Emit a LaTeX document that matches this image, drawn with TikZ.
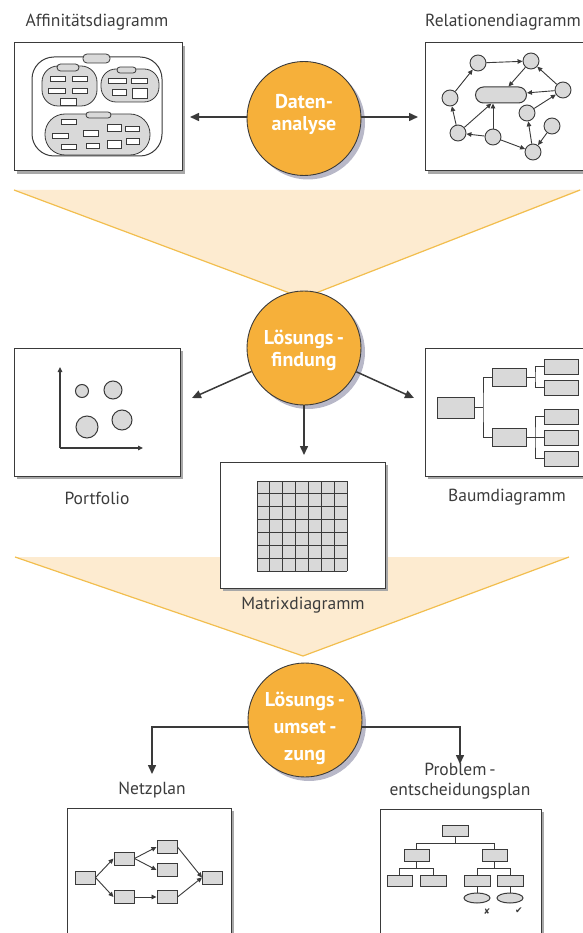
\documentclass[tikz,border=0pt]{standalone}
\usepackage{fontspec}
\setmainfont{PT Sans}
\newfontfamily\symfont{DejaVu Sans}
\usetikzlibrary{arrows.meta,shadows,shapes.geometric,calc}
\definecolor{orC}{HTML}{F6B03A}
\definecolor{funFill}{HTML}{FDEBD0}
\definecolor{funLine}{HTML}{F2BE4E}
\definecolor{lineC}{HTML}{3A3A3A}
\definecolor{txtC}{HTML}{3C3C3C}
\definecolor{grayC}{HTML}{D9D9D9}
\definecolor{shadC}{HTML}{A8A8A8}
\definecolor{cshadC}{HTML}{B8B8C8}
\begin{document}
\begin{tikzpicture}[x=1pt,y=-1pt,
  box/.style={draw=lineC, line width=1pt, fill=white,
    drop shadow={shadow xshift=3pt, shadow yshift=-3pt, fill=shadC, opacity=1}},
  lbl/.style={text=txtC, inner sep=0pt, font=\fontsize{17.5}{20}\selectfont},
  bigc/.style={circle, draw=lineC, line width=0.9pt, fill=orC, minimum size=114pt,
    drop shadow={shadow xshift=4pt, shadow yshift=-4pt, fill=cshadC, opacity=1}},
  ctext/.style={text=white, align=center, inner sep=0pt, font=\fontsize{20}{22}\selectfont\bfseries},
  arr/.style={draw=lineC, line width=1.5pt, -{Triangle[length=9pt,width=8pt]}},
  sarr/.style={draw=lineC, line width=0.9pt, -{Triangle[length=5pt,width=4.5pt]}},
  sq/.style={draw=lineC, line width=1pt, fill=grayC, inner sep=0pt},
  wr/.style={draw=lineC, line width=0.8pt, fill=white},
  gr/.style={draw=lineC, line width=0.8pt, fill=grayC},
  rc/.style={circle, draw=lineC, line width=0.9pt, fill=grayC, minimum size=16pt, inner sep=0pt},
  cn/.style={draw=lineC, line width=1pt}
]
\useasboundingbox (0,0) rectangle (582,933);

% funnels
\fill[funFill] (14,190) -- (582,190) -- (303,298) -- cycle;
\draw[funLine, line width=1.2pt] (14,190) -- (303,298) -- (580,190);
\fill[funFill] (15,557) -- (569,557) -- (303,656) -- cycle;
\draw[funLine, line width=1.2pt] (15,557) -- (303,656) -- (569,557);

% labels
\node[lbl] (afflbl) at (97,22) {Affinitätsdiagramm};
\node[lbl, anchor=west] (rellbl) at (425,22) {Relationendiagramm};
\node[lbl] (portlbl) at (97,498) {Portfolio};
\node[lbl] (baumlbl) at (507,497) {Baumdiagramm};
\node[lbl] (matlbl) at (303,605) {Matrixdiagramm};
\node[lbl] (netzlbl) at (152,790) {Netzplan};
\node[lbl, align=center] (problbl) at (460,781) {Problem\,-\\entscheidungsplan};

% boxes
\node[box, minimum width=168pt, minimum height=128pt] (affbox) at (98,107) {};
\node[box, minimum width=175pt, minimum height=128pt] (relbox) at (512.5,107) {};
\node[box, minimum width=166pt, minimum height=128pt] (portbox) at (97,412) {};
\node[box, minimum width=175pt, minimum height=128pt] (baumbox) at (512.5,412) {};
\node[box, minimum width=165pt, minimum height=126pt] (matbox) at (302.5,525) {};
\node[box, minimum width=164pt, minimum height=142pt] (netzbox) at (149,879) {};
\node[box, minimum width=161pt, minimum height=141pt] (probbox) at (460.5,879.5) {};

% circles
\node[bigc] (daten) at (304,118.5) {};
\node[ctext] (datentxt) at (304,114) {Daten-\\analyse};
\node[bigc] (find) at (304,348) {};
\node[ctext] (findtxt) at (304,350) {Lösungs\,-\\findung};
\node[bigc] (umset) at (305,720) {};
\node[ctext, font=\fontsize{20}{27}\selectfont\bfseries] (umsettxt) at (305,728) {Lösungs\,-\\umset\,-\\zung};

% arrows main
\coordinate (tA) at (190,117);
\coordinate (tR) at (418,117);
\draw[arr] (daten.west |- tA) -- (tA);
\draw[arr] (daten.east |- tR) -- (tR);
\coordinate (tP) at (192,398);
\coordinate (tB) at (414,398);
\coordinate (tM) at (304,455);
\draw[arr] (find) -- (tP);
\draw[arr] (find) -- (tB);
\draw[arr] (find.south) -- (tM);
\coordinate (tN) at (152,774);
\coordinate (tQ) at (460,764);
\draw[arr] (umset.187) -| (tN);
\draw[arr] (umset.353) -| (tQ);

% affinity diagram
\draw[wr, line width=1pt, rounded corners=22pt] (32,57) rectangle (162,156);
\draw[gr, rounded corners=4pt] (83,54) rectangle (110,63);
\draw[gr, rounded corners=16pt] (42,66) rectangle (97,106);
\draw[gr, rounded corners=3.5pt] (57,64) rectangle (79,71);
\foreach \a/\b/\c/\d in {50/76/65/81, 72/76/87/81, 48/88/65/93, 72/88/87/93, 60/98/76/105}
  \draw[wr] (\a,\b) rectangle (\c,\d);
\draw[gr, rounded corners=15pt] (101,69) rectangle (159,102);
\draw[gr, rounded corners=3pt] (117,67) rectangle (136,73);
\foreach \a/\b/\c/\d in {108/78/126/83, 131/78/147/83, 112/89/126/95, 132/88/147/98}
  \draw[wr] (\a,\b) rectangle (\c,\d);
\draw[gr, rounded corners=20pt] (45,114) rectangle (150,155);
\draw[gr, rounded corners=3pt] (86,112) rectangle (111,118);
\foreach \a/\b/\c/\d in {61/119/76/124, 52/133/68/138, 83/130/98/136, 107/124/121/131, 125/126/139/131, 61/144/76/149, 86/143/99/148, 107/140/121/148, 126/138/139/144}
  \draw[wr] (\a,\b) rectangle (\c,\d);

% relation diagram
\node[sq, rounded corners=8pt, minimum width=51pt, minimum height=16pt] (pill) at (501,95) {};
\node[rc] (r1) at (478,63) {};
\node[rc] (r2) at (531,61) {};
\node[rc] (r3) at (450,98) {};
\node[rc] (r4) at (563,90) {};
\node[rc] (r5) at (527,113) {};
\node[rc] (r6) at (552,126) {};
\node[rc] (r7) at (458,133) {};
\node[rc] (r8) at (493,137) {};
\node[rc] (r9) at (533,152) {};
\draw[sarr] (r3) -- (r1);
\draw[sarr] (r1) -- (r2);
\draw[sarr] (r2) -- (pill);
\draw[sarr] (r4) -- (r2);
\draw[sarr] (r4) -- (pill);
\draw[sarr] (r5) -- (r4);
\draw[sarr] (r7) -- (r3);
\draw[sarr] (r7) -- (pill);
\draw[sarr] (r8) -- (pill.south -| r8);
\draw[sarr] (r8) -- (r7);
\draw[sarr] (r8) -- (r9);
\draw[sarr] (r9) -- (r5);
\draw[sarr] (r6) -- (r9);

% portfolio
\draw[sarr, line width=1.2pt] (60,448) -- (60,367);
\draw[sarr, line width=1.2pt] (60,448) -- (143,448);
\draw[gr, line width=1pt] (82,391) circle (6.5);
\draw[gr, line width=1pt] (113,390) circle (9);
\draw[gr, line width=1pt] (87,427) circle (11);
\draw[gr, line width=1pt] (122,420) circle (10);

% tree diagram
\node[sq, minimum width=37pt, minimum height=21pt] (troot) at (455.5,407.5) {};
\node[sq, minimum width=34pt, minimum height=18pt] (tm1) at (509,377) {};
\node[sq, minimum width=34pt, minimum height=18pt] (tm2) at (509,437.5) {};
\node[sq, minimum width=34pt, minimum height=15pt] (tl1) at (561,366.5) {};
\node[sq, minimum width=34pt, minimum height=15pt] (tl2) at (561,387.5) {};
\node[sq, minimum width=34pt, minimum height=15pt] (tl3) at (561,416.5) {};
\node[sq, minimum width=34pt, minimum height=15pt] (tl4) at (561,437.5) {};
\node[sq, minimum width=34pt, minimum height=15pt] (tl5) at (561,458.5) {};
\coordinate (tj1) at (483,407.5);
\coordinate (tj2) at (535,377);
\coordinate (tj3) at (535,437.5);
\draw[cn] (troot.east) -- (tj1);
\draw[cn] (tm1.west) -| (tj1) |- (tm2.west);
\draw[cn] (tm1.east) -- (tj2);
\draw[cn] (tl1.west) -| (tj2) |- (tl2.west);
\draw[cn] (tm2.east) -- (tl4.west);
\draw[cn] (tl3.west) -| (tj3) |- (tl5.west);

% matrix
\fill[grayC] (257,481) rectangle (347,571);
\foreach \i in {0,...,7} {
  \draw[lineC, line width=1pt] ({257+\i*90/7},481) -- ({257+\i*90/7},571);
  \draw[lineC, line width=1pt] (257,{481+\i*90/7}) -- (347,{481+\i*90/7});
}

% Netzplan
\node[sq, minimum width=20pt, minimum height=13pt] (nA) at (85,877.5) {};
\node[sq, minimum width=20pt, minimum height=13pt] (nB) at (124,858.5) {};
\node[sq, minimum width=20pt, minimum height=13pt] (nC) at (167,847) {};
\node[sq, minimum width=20pt, minimum height=13pt] (nD) at (167,870) {};
\node[sq, minimum width=20pt, minimum height=13pt] (nE) at (124,897) {};
\node[sq, minimum width=20pt, minimum height=13pt] (nF) at (167,897) {};
\node[sq, minimum width=20pt, minimum height=13pt] (nG) at (212.5,877.5) {};
\draw[sarr] (nA.east) -- (nB.west);
\draw[sarr] (nA.east) -- (nE.west);
\draw[sarr] (nB.east) -- (nC.west);
\draw[sarr] (nB.east) -- (nD.west);
\draw[sarr] (nE.east) -- (nF.west);
\draw[sarr] (nC.east) -- (nG.west);
\draw[sarr] (nF.east) -- (nG.west);

% Problementscheidungsplan
\node[sq, minimum width=26pt, minimum height=11pt] (ptop) at (455,830.5) {};
\node[sq, minimum width=25pt, minimum height=12pt] (pL1) at (416.5,855) {};
\node[sq, minimum width=25pt, minimum height=12pt] (pR1) at (494.5,855) {};
\node[sq, minimum width=25pt, minimum height=11pt] (pLL) at (399.5,880.5) {};
\node[sq, minimum width=26pt, minimum height=11pt] (pLR) at (433,880.5) {};
\node[sq, minimum width=26pt, minimum height=11pt] (pRL) at (477,880.5) {};
\node[sq, minimum width=26pt, minimum height=11pt] (pRR) at (510,880.5) {};
\node[draw=lineC, line width=1pt, fill=grayC, ellipse, inner sep=0pt, minimum width=26pt, minimum height=10pt] (eL) at (477,898) {};
\node[draw=lineC, line width=1pt, fill=grayC, ellipse, inner sep=0pt, minimum width=26pt, minimum height=10pt] (eR) at (510,898) {};
\coordinate (pj0) at (455,843);
\coordinate (pj1) at (416.5,868);
\coordinate (pj2) at (494.5,868);
\draw[cn] (ptop.south) -- (pj0);
\draw[cn] (pL1.north) |- (pj0) -| (pR1.north);
\draw[cn] (pL1.south) -- (pj1);
\draw[cn] (pLL.north) |- (pj1) -| (pLR.north);
\draw[cn] (pR1.south) -- (pj2);
\draw[cn] (pRL.north) |- (pj2) -| (pRR.north);
\draw[cn] (pRL.south) -- (eL.north);
\draw[cn] (pRR.south) -- (eR.north);
\node[text=lineC, inner sep=0pt, font=\symfont\fontsize{8}{8}\selectfont] (xmark) at (487,912) {✘};
\node[text=lineC, inner sep=0pt, font=\symfont\fontsize{9}{9}\selectfont] (cmark) at (519,911) {✔};
\end{tikzpicture}
\end{document}
